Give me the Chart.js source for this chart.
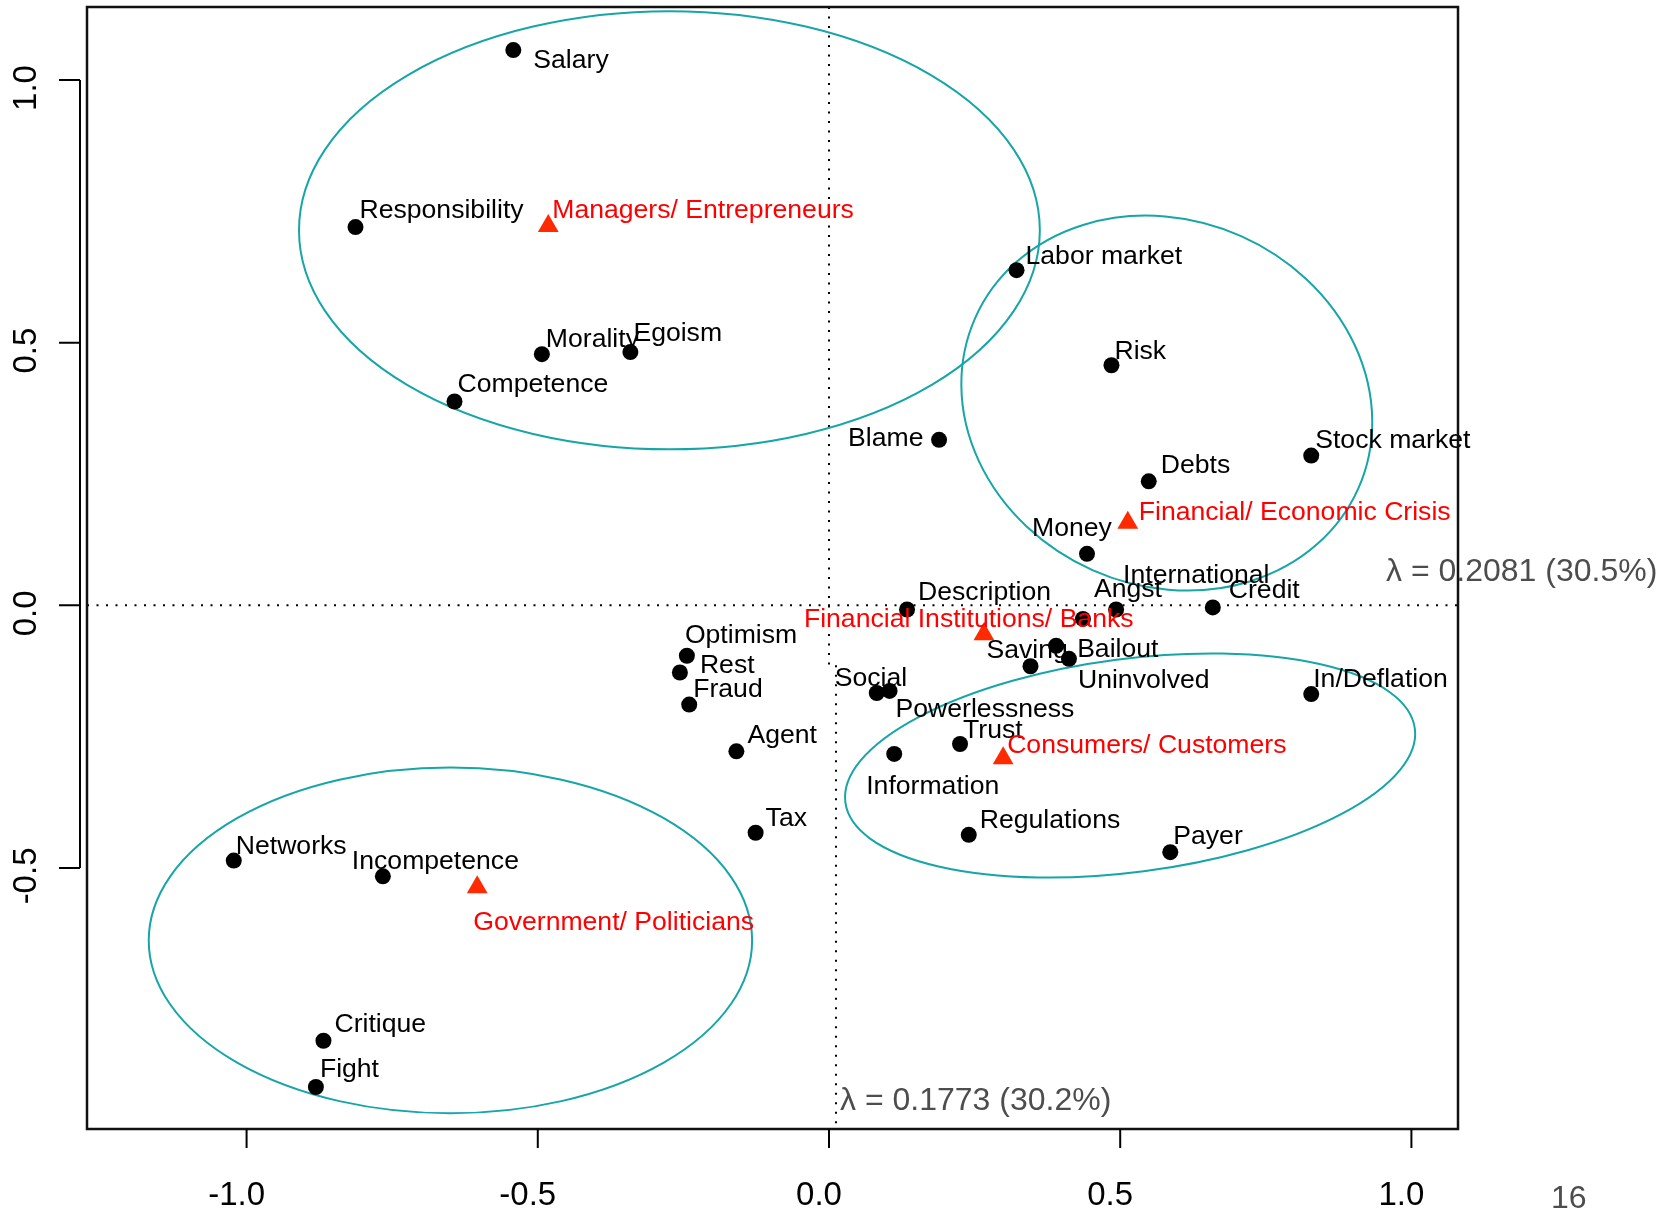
<!DOCTYPE html>
<html>
<head>
<meta charset="utf-8">
<title>Correspondence analysis</title>
<script src="https://cdn.jsdelivr.net/npm/chart.js@4.4.1/dist/chart.umd.min.js"></script>
<style>
	body { margin: 0; background: #fff; }
	canvas { display: block; }
</style>
</head>
<body>
<canvas id="chart" width="1674" height="1211"></canvas>
<script>
// Terms (black dots)
const termNames = ["Salary", "Responsibility", "Morality", "Egoism", "Competence", "Labor market", "Risk", "Blame",
	"Stock market", "Debts", "Money", "International", "Angst", "Credit", "Description", "Saving", "Bailout",
	"Uninvolved", "Social", "Powerlessness", "Trust", "Information", "Regulations", "Payer", "In/Deflation",
	"Optimism", "Rest", "Fraud", "Agent", "Tax", "Networks", "Incompetence", "Critique", "Fight"];
const termX = [-0.542, -0.813, -0.493, -0.341, -0.643, 0.322, 0.485, 0.189,
	0.828, 0.549, 0.443, 0.493, 0.436, 0.659, 0.134, 0.346, 0.390,
	0.412, 0.082, 0.104, 0.225, 0.112, 0.240, 0.586, 0.828,
	-0.244, -0.256, -0.240, -0.159, -0.126, -1.022, -0.766, -0.868, -0.881];
const termY = [1.057, 0.720, 0.478, 0.482, 0.388, 0.638, 0.457, 0.315,
	0.285, 0.236, 0.098, -0.008, -0.026, -0.004, -0.008, -0.116, -0.077,
	-0.102, -0.167, -0.163, -0.264, -0.283, -0.437, -0.470, -0.169,
	-0.096, -0.128, -0.189, -0.278, -0.433, -0.486, -0.516, -0.829, -0.917];

// Groups (red triangles)
const groupNames = ["Managers/ Entrepreneurs", "Financial/ Economic Crisis", "Financial Institutions/ Banks",
	"Consumers/ Customers", "Government/ Politicians"];
const groupX = [-0.482, 0.513, 0.266, 0.299, -0.604];
const groupY = [0.722, 0.157, -0.055, -0.291, -0.537];

// Cluster ellipses: centre, half axes, tilt in degrees
const ellipseCX = [-0.274, 0.580, 0.517, -0.650];
const ellipseCY = [0.714, 0.385, -0.305, -0.638];
const ellipseRX = [0.636, 0.360, 0.493, 0.518];
const ellipseRY = [0.417, 0.348, 0.203, 0.329];
const ellipseTilt = [0, 24, -7.4, 0];

// Axes
const xTicks = [-1.0, -0.5, 0.0, 0.5, 1.0];
const yTicks = [-0.5, 0.0, 0.5, 1.0];
const xLambda = "λ = 0.1773 (30.2%)";
const yLambda = "λ = 0.2081 (30.5%)";
const pageNumber = "16";

// where each label sits relative to its mark (px)
const labelOffsets = {
	"Salary": [20, 11], "Responsibility": [4, -16], "Morality": [4, -15], "Egoism": [3, -18],
	"Competence": [3, -17], "Labor market": [9, -14], "Risk": [3, -14], "Blame": [-91, -1],
	"Stock market": [4, -15], "Debts": [12, -16], "Money": [-55, -25], "International": [7, -34],
	"Angst": [11, -29], "Credit": [16, -17], "Description": [11, -17], "Saving": [-44, -16],
	"Bailout": [21, 4], "Uninvolved": [9, 22], "Social": [-42, -14], "Powerlessness": [6, 19],
	"Trust": [3, -13], "Information": [-28, 33], "Regulations": [11, -14], "Payer": [3, -16],
	"In/Deflation": [2, -14], "Optimism": [-2, -20], "Rest": [20, -7], "Fraud": [4, -15],
	"Agent": [11, -16], "Tax": [10, -14], "Networks": [2, -14], "Incompetence": [-31, -15],
	"Critique": [11, -16], "Fight": [4, -17],
	"Managers/ Entrepreneurs": [4, -15], "Financial/ Economic Crisis": [11, -10],
	"Financial Institutions/ Banks": [-180, -15], "Consumers/ Customers": [4, -12],
	"Government/ Politicians": [-4, 35]
};

const font = "'Liberation Sans', Arial, Helvetica, sans-serif";

const rPlot = {
	id: "rPlot",
	beforeDatasetsDraw(chart) {
		const ctx = chart.ctx;
		const xs = chart.scales.x;
		const ys = chart.scales.y;
		const area = chart.chartArea;

		ctx.save();
		// dotted zero lines
		ctx.strokeStyle = "#000";
		ctx.lineWidth = 2;
		ctx.setLineDash([2, 7.5]);
		ctx.beginPath();
		ctx.moveTo(area.left, ys.getPixelForValue(0));
		ctx.lineTo(area.right, ys.getPixelForValue(0));
		ctx.moveTo(xs.getPixelForValue(0), area.top);
		ctx.lineTo(xs.getPixelForValue(0), ys.getPixelForValue(-0.114));
		ctx.moveTo(xs.getPixelForValue(0.012), ys.getPixelForValue(-0.114));
		ctx.lineTo(xs.getPixelForValue(0.012), area.bottom);
		ctx.stroke();
		ctx.setLineDash([]);

		// ellipses
		ctx.strokeStyle = "#17a5a7";
		ctx.lineWidth = 2;
		for (let i = 0; i < ellipseCX.length; i++) {
			const cx = xs.getPixelForValue(ellipseCX[i]);
			const cy = ys.getPixelForValue(ellipseCY[i]);
			const rx = xs.getPixelForValue(ellipseCX[i] + ellipseRX[i]) - cx;
			const ry = cy - ys.getPixelForValue(ellipseCY[i] + ellipseRY[i]);
			ctx.beginPath();
			ctx.ellipse(cx, cy, rx, ry, ellipseTilt[i] * Math.PI / 180, 0, 2 * Math.PI);
			ctx.stroke();
		}
		ctx.restore();
	},
	afterDatasetsDraw(chart) {
		const ctx = chart.ctx;
		const xs = chart.scales.x;
		const ys = chart.scales.y;
		const area = chart.chartArea;

		ctx.save();
		// point labels
		ctx.font = "26.6px " + font;
		ctx.textBaseline = "middle";
		ctx.textAlign = "left";
		chart.data.datasets.forEach((ds) => {
			ds.data.forEach((p) => {
				const off = labelOffsets[p.label] || [4, -15];
				ctx.fillStyle = ds.labelColor;
				ctx.fillText(p.label, xs.getPixelForValue(p.x) + off[0], ys.getPixelForValue(p.y) + off[1]);
			});
		});

		// box
		ctx.strokeStyle = "#111";
		ctx.lineWidth = 2.5;
		ctx.strokeRect(area.left, area.top, area.right - area.left, area.bottom - area.top);

		// x axis ticks
		ctx.lineWidth = 2;
		ctx.strokeStyle = "#000";
		ctx.fillStyle = "#000";
		ctx.font = "33px " + font;
		ctx.textAlign = "center";
		xTicks.forEach((t) => {
			const px = xs.getPixelForValue(t);
			ctx.beginPath();
			ctx.moveTo(px, area.bottom);
			ctx.lineTo(px, area.bottom + 19);
			ctx.stroke();
			ctx.fillText(t.toFixed(1), px - 10, 1196);
		});

		// y axis, R style, set off from the box
		const axX = area.left - 7;
		ctx.beginPath();
		ctx.moveTo(axX, ys.getPixelForValue(yTicks[0]));
		ctx.lineTo(axX, ys.getPixelForValue(yTicks[yTicks.length - 1]));
		yTicks.forEach((t) => {
			const py = ys.getPixelForValue(t);
			ctx.moveTo(axX, py);
			ctx.lineTo(axX - 21, py);
		});
		ctx.stroke();
		yTicks.forEach((t) => {
			const py = ys.getPixelForValue(t);
			ctx.save();
			ctx.translate(27, py + 8);
			ctx.rotate(-Math.PI / 2);
			ctx.fillText(t.toFixed(1), 0, 0);
			ctx.restore();
		});

		// inertia labels and page number
		ctx.font = "32px " + font;
		ctx.fillStyle = "#4d4d4d";
		ctx.textAlign = "left";
		ctx.fillText(yLambda, 1386, 572);
		ctx.fillText(xLambda, 840, 1101);
		ctx.fillText(pageNumber, 1551, 1199);
		ctx.restore();
	}
};

const termPoints = termNames.map((name, i) => ({ x: termX[i], y: termY[i], label: name }));
const groupPoints = groupNames.map((name, i) => ({ x: groupX[i], y: groupY[i], label: name }));

new Chart(document.getElementById("chart"), {
	type: "scatter",
	data: {
		datasets: [
			{
				label: "Terms",
				data: termPoints,
				pointStyle: "circle",
				pointRadius: 8,
				backgroundColor: "#000",
				borderWidth: 0,
				labelColor: "#000",
			},
			{
				label: "Groups",
				data: groupPoints,
				pointStyle: "triangle",
				pointRadius: 12,
				backgroundColor: "#ff2a00",
				borderWidth: 0,
				labelColor: "#ff0000",
			},
		],
	},
	options: {
		responsive: false,
		animation: false,
		layout: {
			autoPadding: false,
			padding: { left: 87, right: 216, top: 7, bottom: 82 },
		},
		plugins: {
			legend: { display: false },
			tooltip: { enabled: false },
		},
		scales: {
			x: { type: "linear", min: -1.274, max: 1.080, display: false },
			y: { type: "linear", min: -0.997, max: 1.139, display: false },
		},
	},
	plugins: [rPlot],
});
</script>
</body>
</html>
